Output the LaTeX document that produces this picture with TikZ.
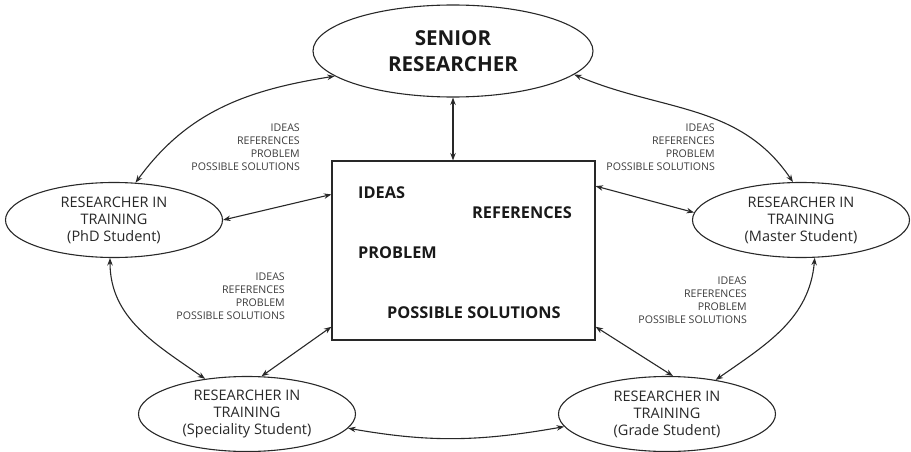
\documentclass[tikz,border=0pt]{standalone}
\usepackage{fontspec}
\setmainfont{Open Sans}
\usetikzlibrary{shapes.geometric, arrows.meta}
\definecolor{inkGray}{RGB}{40,40,40}
\definecolor{noteGray}{RGB}{60,60,60}

\begin{document}
\begin{tikzpicture}[x=1pt, y=1pt, every node/.style={align=center, text=inkGray},
  trainee/.style={draw=inkGray, line width=1.1pt, ellipse, inner sep=0pt, minimum width=217pt, minimum height=75pt, font=\fontsize{14.5}{17}\selectfont},
  topic/.style={anchor=west, inner sep=0pt, font=\fontsize{16.3}{18}\selectfont\bfseries, text=black!90},
  note/.style={anchor=east, align=right, inner sep=0pt, text=noteGray, font=\fontsize{10.6}{13}\selectfont},
  link/.style={draw=inkGray, line width=1.1pt, {Stealth[length=7.5pt,width=5.5pt]}-{Stealth[length=7.5pt,width=5.5pt]}}]
\useasboundingbox (0,0) rectangle (911,451);

% Central node
\node[draw=inkGray, line width=1.1pt, ellipse, inner sep=0pt, minimum width=280pt, minimum height=92pt, font=\fontsize{20.6}{26}\selectfont\bfseries, text=black!90] (senior) at (453,400) {SENIOR\\RESEARCHER};
\node[draw=inkGray, line width=1.1pt, rectangle, minimum width=263pt, minimum height=179pt] (box) at (463.5,200.5) {};

% Contents of the box
\node[topic] (ideas) at (358,258) {IDEAS};
\node[topic] (refs) at (472,238) {REFERENCES};
\node[topic] (problem) at (358,198) {PROBLEM};
\node[topic] (solutions) at (387,138) {POSSIBLE SOLUTIONS};

% Researchers in training
\node[trainee] (phd) at (114,231) {RESEARCHER IN\\TRAINING\\(PhD Student)};
\node[trainee] (master) at (801,231) {RESEARCHER IN\\TRAINING\\(Master Student)};
\node[trainee] (spec) at (247,37) {RESEARCHER IN\\TRAINING\\(Speciality Student)};
\node[trainee] (grade) at (667,37) {RESEARCHER IN\\TRAINING\\(Grade Student)};

% Notes
\node[note] (noteA) at (300,303.5) {IDEAS\\REFERENCES\\PROBLEM\\POSSIBLE SOLUTIONS};
\node[note] (noteB) at (715,303.5) {IDEAS\\REFERENCES\\PROBLEM\\POSSIBLE SOLUTIONS};
\node[note] (noteC) at (285,154.5) {IDEAS\\REFERENCES\\PROBLEM\\POSSIBLE SOLUTIONS};
\node[note] (noteD) at (747,151) {IDEAS\\REFERENCES\\PROBLEM\\POSSIBLE SOLUTIONS};

% Arrows
\draw[link] (senior.south) -- (senior.south |- box.north);
\draw[link] (senior.192) to[out=189, in=54] (phd.60);
\draw[link] (senior.349) to[out=-23, in=124] (master.102);
\draw[link] (phd.0) -- (box.157);
\draw[link] (master.176) -- (box.26);
\draw[link] (phd.264) to[out=270, in=145] (spec.140);
\draw[link] (master.290) to[out=265, in=35] (grade.35);
\draw[link] (box.210) -- (spec.69);
\draw[link] (box.330) -- (grade.81);
\draw[link] (spec.352) to[out=-10, in=190] (grade.187);
\end{tikzpicture}
\end{document}
